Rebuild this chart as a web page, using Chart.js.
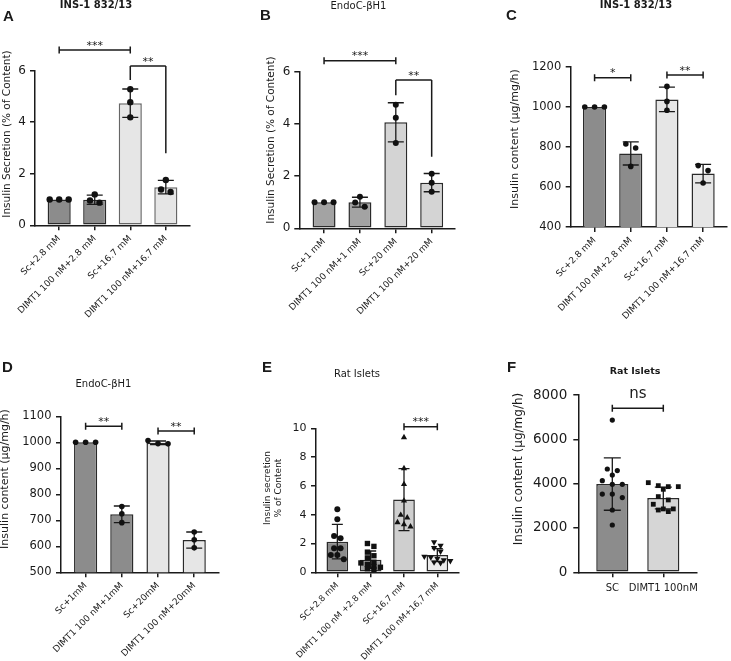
<!DOCTYPE html>
<html><head><meta charset="utf-8">
<script src="https://cdn.jsdelivr.net/npm/chart.js@4.4.1/dist/chart.umd.min.js"></script>
<style>
html,body{margin:0;padding:0;background:#fff;width:731px;height:661px;overflow:hidden;position:relative;font-family:'DejaVu Sans',sans-serif;color:#1a1a1a}
canvas{position:absolute;left:0;top:0}
.L{position:absolute;font:bold 15px 'Liberation Sans',Arial,sans-serif;line-height:15px}
.T{position:absolute;transform:translate(-50%,-50%);white-space:nowrap;font-size:10px;line-height:1}
.Y{position:absolute;transform:translate(-50%,-50%) rotate(-90deg);white-space:nowrap;line-height:1.2;text-align:center}
</style></head><body>
<canvas id="cA" width="731" height="661"></canvas>
<canvas id="cB" width="731" height="661"></canvas>
<canvas id="cC" width="731" height="661"></canvas>
<canvas id="cD" width="731" height="661"></canvas>
<canvas id="cE" width="731" height="661"></canvas>
<canvas id="cF" width="731" height="661"></canvas>

<div class="L" style="left:3px;top:8px">A</div>
<div class="L" style="left:260px;top:6.5px">B</div>
<div class="L" style="left:506px;top:6.5px">C</div>
<div class="L" style="left:2px;top:359px">D</div>
<div class="L" style="left:262px;top:359px">E</div>
<div class="L" style="left:507px;top:359px">F</div>

<div class="T" style="left:96px;top:4.5px;font-weight:bold">INS-1 832/13</div>
<div class="T" style="left:358.5px;top:5.5px">EndoC-βH1</div>
<div class="T" style="left:636px;top:4.5px;font-weight:bold">INS-1 832/13</div>
<div class="T" style="left:103.5px;top:383.5px">EndoC-βH1</div>
<div class="T" style="left:357px;top:374px">Rat Islets</div>
<div class="T" style="left:635px;top:371px;font-weight:bold;font-size:9.5px">Rat Islets</div>

<div class="Y" style="left:6px;top:134px;font-size:10.5px">Insulin Secretion (% of Content)</div>
<div class="Y" style="left:270px;top:140px;font-size:10.5px">Insulin Secretion (% of Content)</div>
<div class="Y" style="left:514.5px;top:139px;font-size:11px">Insulin content (μg/mg/h)</div>
<div class="Y" style="left:5px;top:479px;font-size:11px">Insulin content (μg/mg/h)</div>
<div class="Y" style="left:273px;top:488px;font-size:9px">Insulin secretion<br>% of Content</div>
<div class="Y" style="left:518px;top:469px;font-size:12px">Insulin content (μg/mg/h)</div>

<script>
// ---------- DATA ----------
const aLabels = ['Sc+2.8 mM', 'DIMT1 100 nM+2.8 mM', 'Sc+16.7 mM', 'DIMT1 100 nM+16.7 mM'];
const aMeans = [1.0, 0.99, 4.74, 1.48];
const aSD = [0, 0.18, 0.55, 0.26];
const aPoints = [[1, 1, 1], [1.2, 0.88, 0.96], [5.28, 4.78, 4.19], [1.76, 1.29, 1.39]];
const aTicks = [0, 2, 4, 6];
const aSig = [{from: 0, to: 2, y: 6.8, text: '***'}, {from: 2, to: 3, y: 6.18, left: 5.64, right: 2.8, text: '**'}];

const bLabels = ['Sc+1 mM', 'DIMT1 100 nM+1 mM', 'Sc+20 mM', 'DIMT1 100 nM+20 mM'];
const bMeans = [1.0, 1.0, 4.06, 1.75];
const bSD = [0, 0.19, 0.75, 0.35];
const bPoints = [[1, 1, 1], [1.21, 0.83, 0.99], [4.73, 4.24, 3.27], [2.09, 1.75, 1.4]];
const bTicks = [0, 2, 4, 6];
const bSig = [{from: 0, to: 2, y: 6.42, text: '***'}, {from: 2, to: 3, y: 5.68, left: 5.1, right: 2.74, text: '**'}];

const cLabels = ['Sc+2.8 mM', 'DIMT 100 nM+2.8 mM', 'Sc+16.7 mM', 'DIMT1 100 nM+16.7 mM'];
const cMeans = [1000, 768, 1038, 667];
const cSD = [0, 58, 61, 46];
const cPoints = [[1000, 1000, 1000], [815, 795, 703], [1103, 1028, 984], [707, 682, 620]];
const cTicks = [400, 600, 800, 1000, 1200];
const cSig = [{from: 0, to: 1, y: 1146, text: '*'}, {from: 2, to: 3, y: 1160, text: '**'}];

const dLabels = ['Sc+1mM', 'DIMT1 100 nM+1mM', 'Sc+20mM', 'DIMT1 100 nM+20mM'];
const dMeans = [1000, 723, 998, 624];
const dSD = [0, 32, 7, 31];
const dPoints = [[1000, 1000, 1000], [753, 725, 691], [1007, 995, 994], [655, 625, 594]];
const dTicks = [500, 600, 700, 800, 900, 1000, 1100];
const dSig = [{from: 0, to: 1, y: 1062, text: '**'}, {from: 2, to: 3, y: 1043, text: '**'}];

const eLabels = ['SC+2.8 mM', 'DIMT1 100 nM +2.8 mM', 'SC+16,7 mM', 'DIMT1 100 nM+16,7 mM'];
const eMeans = [2.13, 0.88, 5.05, 1.2];
const eSD = [1.2, 0.6, 2.15, 0.45];
const ePoints = [
  [4.37, 3.68, 2.52, 2.36, 1.67, 1.67, 1.2, 1.2, 0.9],
  [2.0, 1.8, 1.4, 1.15, 1.0, 0.7, 0.65, 0.55, 0.4, 0.35, 0.25, 0.2],
  [9.37, 7.22, 6.11, 4.97, 3.98, 3.79, 3.47, 3.33, 3.17],
  [2.1, 1.85, 1.7, 1.45, 1.1, 1.05, 0.95, 0.85, 0.8, 0.7, 0.65]
];
const eTicks = [0, 2, 4, 6, 8, 10];
const eSig = [{from: 2, to: 3, y: 10.1, text: '***'}];

const fLabels = ['SC', 'DIMT1 100nM'];
const fMeans = [3980, 3350];
const fSD = [1180, 490];
const fPoints = [
  [6870, 4660, 4590, 4390, 4135, 3970, 3970, 3530, 3530, 3370, 2810, 2135],
  [4045, 3910, 3865, 3865, 3745, 3415, 3265, 3070, 2860, 2860, 2810, 2740]
];
const fTicks = [0, 2000, 4000, 6000, 8000];
const fSig = [{from: 0, to: 1, y: 7400, text: 'ns'}];

// ---------- RENDERING ----------
const PW = 731, PH = 661;
const INK = '#1a1a1a';
const FONT = "'DejaVu Sans', sans-serif";

// Prism-like row layout: points close in value share a row, centred on the bar
function swarm(vals, pxPerY, step, thr) {
  const idx = vals.map((v, i) => i).sort((a, b) => vals[b] - vals[a]);
  const offs = new Array(vals.length).fill(0);
  let row = [];
  const flush = () => {
    const k = row.length;
    row.forEach((i, j) => { offs[i] = (j - (k - 1) / 2) * step; });
    row = [];
  };
  idx.forEach(i => {
    if (row.length && (vals[row[0]] - vals[i]) * pxPerY > thr) flush();
    row.push(i);
  });
  flush();
  return offs;
}

function panel(id, o) {
  const p = o.plot;
  const pxY = (p.b - p.t) / (o.yTicks[o.yTicks.length - 1] - o.yTicks[0]);
  const pxX = (p.r - p.l) / (o.xMax - o.xMin);
  const scatter = [], styles = [], rots = [], radii = [];
  o.points.forEach((vals, i) => {
    const offs = swarm(vals, pxY, o.step, o.thr);
    vals.forEach((v, j) => {
      scatter.push({x: i + offs[j] / pxX, y: v});
      styles.push(o.marker[i]); rots.push(o.rot[i]); radii.push(o.radius[i]);
    });
  });
  const overlay = {
    id: 'overlay' + id,
    afterDatasetDraw(chart, args) {
      if (args.index !== 0) return;
      const xs = chart.scales.x, ys = chart.scales.y, ctx = chart.ctx;
      ctx.save();
      ctx.strokeStyle = INK; ctx.lineWidth = 1.3;
      o.means.forEach((m, i) => {
        const sd = o.sd[i]; if (!sd) return;
        const px = xs.getPixelForValue(i), t = ys.getPixelForValue(m + sd), b = ys.getPixelForValue(m - sd);
        ctx.beginPath();
        ctx.moveTo(px, t); ctx.lineTo(px, b);
        ctx.moveTo(px - o.cap, t); ctx.lineTo(px + o.cap, t);
        ctx.moveTo(px - o.cap, b); ctx.lineTo(px + o.cap, b);
        ctx.stroke();
      });
      ctx.restore();
    },
    afterDraw(chart) {
      const xs = chart.scales.x, ys = chart.scales.y, ctx = chart.ctx;
      ctx.save();
      ctx.strokeStyle = INK; ctx.fillStyle = INK; ctx.lineWidth = 1.5;
      o.sig.forEach(s => {
        const x1 = xs.getPixelForValue(s.from), x2 = xs.getPixelForValue(s.to), yy = ys.getPixelForValue(s.y);
        ctx.beginPath();
        ctx.moveTo(x1, yy); ctx.lineTo(x2, yy);
        if (s.left != null) {
          ctx.moveTo(x1, yy); ctx.lineTo(x1, ys.getPixelForValue(s.left));
          ctx.moveTo(x2, yy); ctx.lineTo(x2, ys.getPixelForValue(s.right));
        } else {
          ctx.moveTo(x1, yy - 3.5); ctx.lineTo(x1, yy + 3.5);
          ctx.moveTo(x2, yy - 3.5); ctx.lineTo(x2, yy + 3.5);
        }
        ctx.stroke();
        ctx.font = (s.text === 'ns' ? '15px ' : '11px ') + FONT;
        ctx.textAlign = 'center'; ctx.textBaseline = 'alphabetic';
        ctx.fillText(s.text, (x1 + x2) / 2, yy - (s.text === 'ns' ? 10 : 1.5));
      });
      ctx.restore();
    }
  };
  const grid = {display: true, offset: false, drawOnChartArea: false, drawTicks: true, tickLength: 5, color: INK, lineWidth: 1.5};
  const border = {display: true, color: INK, width: 1.5};
  new Chart(document.getElementById(id), {
    type: 'bar',
    data: {datasets: [
      {type: 'bar', data: o.means.map((m, i) => ({x: i, y: m})), backgroundColor: o.fill, borderColor: o.edge,
       borderWidth: 1.5, borderSkipped: false, barPercentage: o.barPct, categoryPercentage: 1, order: 2},
      {type: 'scatter', data: scatter, pointStyle: styles, pointRotation: rots, pointRadius: radii,
       backgroundColor: '#111', borderColor: '#111', borderWidth: 0, clip: false, order: 1}
    ]},
    options: {
      responsive: false, animation: false, events: [],
      layout: {padding: {left: 0, top: p.t, right: PW - p.r, bottom: 0}},
      plugins: {legend: {display: false}, tooltip: {enabled: false}},
      scales: {
        x: {type: 'linear', min: o.xMin, max: o.xMax, offset: false,
            afterBuildTicks: s => { s.ticks = o.labels.map((_, i) => ({value: i})); },
            afterFit: s => { s.height = PH - p.b; s.paddingLeft = 0; s.paddingRight = 0; },
            ticks: {autoSkip: false, minRotation: o.xRot, maxRotation: o.xRot, padding: o.xPad, color: INK,
                    font: {family: FONT, size: o.xFont}, callback: v => o.labels[v]},
            grid, border},
        y: {type: 'linear', min: o.yTicks[0], max: o.yTicks[o.yTicks.length - 1],
            afterBuildTicks: s => { s.ticks = o.yTicks.map(v => ({value: v})); },
            afterFit: s => { s.width = p.l; s.paddingTop = 0; s.paddingBottom = 0; },
            ticks: {padding: o.yPad, color: INK, font: {family: FONT, size: o.yFont}, callback: v => String(v)},
            grid, border}
      }
    },
    plugins: [overlay]
  });
}

const darkA = '#8c8c8c', lightA = '#e6e6e6';
const dots4 = ['circle', 'circle', 'circle', 'circle'], noRot = [0, 0, 0, 0];
panel('cA', {labels: aLabels, means: aMeans, sd: aSD, points: aPoints, yTicks: aTicks, sig: aSig,
  plot: {l: 35, t: 70.7, r: 190, b: 225.3}, xMin: -0.68, xMax: 3.68,
  fill: [darkA, darkA, lightA, lightA], edge: ['#2a2a2a', '#2a2a2a', '#666', '#666'], barPct: 0.65,
  marker: dots4, rot: noRot, radius: [3.2, 3.2, 3.2, 3.2], step: 9.5, thr: 6, cap: 8, xRot: 45, xPad: 3, xFont: 9, yPad: 4, yFont: 12});
panel('cB', {labels: bLabels, means: bMeans, sd: bSD, points: bPoints, yTicks: bTicks, sig: bSig,
  plot: {l: 299.3, t: 71.7, r: 455, b: 228.3}, xMin: -0.69, xMax: 3.65,
  fill: ['#a3a3a3', '#a3a3a3', '#d4d4d4', '#d4d4d4'], edge: '#2a2a2a', barPct: 0.64,
  marker: dots4, rot: noRot, radius: [3, 3, 3, 3], step: 9.5, thr: 5.5, cap: 8, xRot: 45, xPad: 3, xFont: 9, yPad: 4, yFont: 12});
panel('cC', {labels: cLabels, means: cMeans, sd: cSD, points: cPoints, yTicks: cTicks, sig: cSig,
  plot: {l: 570.7, t: 67, r: 730, b: 227}, xMin: -0.66, xMax: 3.66,
  fill: [darkA, darkA, lightA, lightA], edge: '#2a2a2a', barPct: 0.64,
  marker: dots4, rot: noRot, radius: [2.8, 2.8, 2.8, 2.8], step: 10, thr: 5.5, cap: 8, xRot: 45, xPad: 3, xFont: 9, yPad: 4.5, yFont: 11.5});
panel('cD', {labels: dLabels, means: dMeans, sd: dSD, points: dPoints, yTicks: dTicks, sig: dSig,
  plot: {l: 61, t: 416.3, r: 218.3, b: 572.3}, xMin: -0.68, xMax: 3.665,
  fill: [darkA, darkA, lightA, lightA], edge: '#2a2a2a', barPct: 0.64,
  marker: dots4, rot: noRot, radius: [2.8, 2.8, 2.8, 2.8], step: 10, thr: 5, cap: 8, xRot: 45, xPad: 3, xFont: 9, yPad: 4.5, yFont: 11.5});
panel('cE', {labels: eLabels, means: eMeans, sd: eSD, points: ePoints, yTicks: eTicks, sig: eSig,
  plot: {l: 316, t: 428.3, r: 459, b: 572.3}, xMin: -0.64, xMax: 3.65,
  fill: ['#8c8c8c', '#a0a0a0', '#cfcfcf', '#ebebeb'], edge: '#2a2a2a', barPct: 0.65,
  marker: ['circle', 'rect', 'triangle', 'triangle'], rot: [0, 0, 0, 180], radius: [3, 3.8, 3.6, 3.6],
  step: 6.5, thr: 4.5, cap: 5.5, xRot: 45, xPad: 3, xFont: 8.5, yPad: 4.5, yFont: 11});
panel('cF', {labels: fLabels, means: fMeans, sd: fSD, points: fPoints, yTicks: fTicks, sig: fSig,
  plot: {l: 578.3, t: 395, r: 696.7, b: 572.3}, xMin: -0.667, xMax: 1.655,
  fill: ['#8c8c8c', '#d6d6d6'], edge: '#2a2a2a', barPct: 0.63,
  marker: ['circle', 'rect'], rot: [0, 0], radius: [2.6, 3.4], step: 10, thr: 5, cap: 8.5,
  xRot: 0, xPad: 5, xFont: 10, yPad: 6, yFont: 13.5});
</script>
</body></html>
